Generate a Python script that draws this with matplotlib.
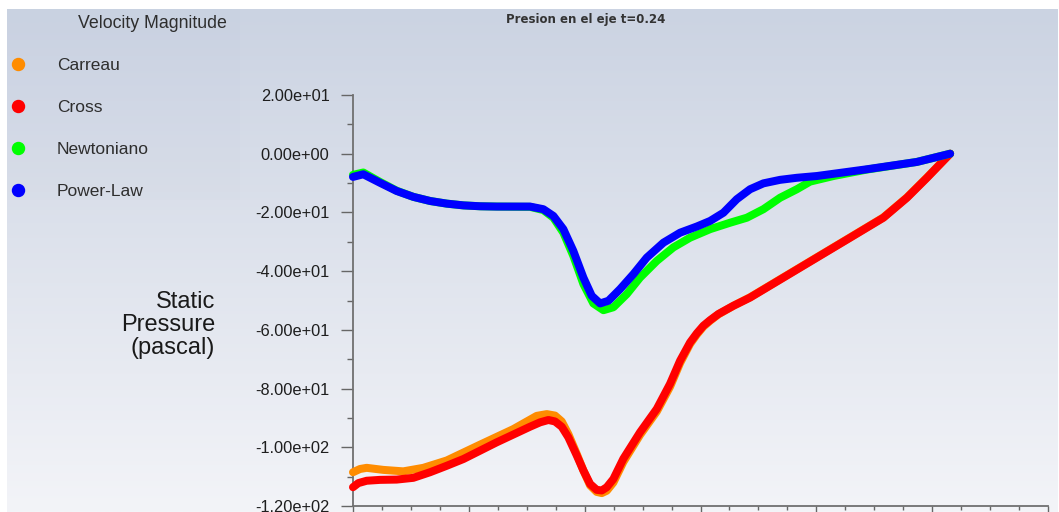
import matplotlib
matplotlib.use("Agg")
import matplotlib.pyplot as plt
import numpy as np
from matplotlib.ticker import MultipleLocator, FixedLocator, NullFormatter
from matplotlib.patches import Rectangle

W, H, DPI = 1059, 512, 100

title = "Presion en el eje t=0.24"
legend_title = "Velocity Magnitude"
y_label_lines = ["Static", "Pressure", "(pascal)"]

series_names = ["Carreau", "Cross", "Newtoniano", "Power-Law"]
series_colors = ["#ff8c00", "#ff0000", "#00ff00", "#0000ff"]

# axial position along the axis (major-tick units) and static pressure (Pa)
x_carreau = [0.0, 0.060, 0.118, 0.262, 0.434, 0.607, 0.809, 1.097, 1.384, 1.586,
             1.673, 1.744, 1.802, 1.859, 1.932, 1.989, 2.047, 2.104, 2.148, 2.191,
             2.248, 2.334, 2.478, 2.623, 2.737, 2.824, 2.910, 2.968, 3.025, 3.083,
             3.155, 3.284, 3.428, 3.716, 4.004, 4.292, 4.579, 4.782, 4.955, 5.155]
p_carreau = [-108.5, -107.4, -107.0, -107.7, -108.2, -107.0, -104.5, -99.1, -93.8, -89.3,
             -88.7, -89.2, -91.2, -95.5, -102.3, -107.9, -113.0, -115.2, -115.6, -114.8,
             -112.0, -105.0, -95.8, -87.8, -79.4, -71.3, -64.8, -61.6, -58.9, -56.9,
             -54.7, -51.8, -48.9, -42.1, -35.3, -28.5, -21.7, -14.9, -8.1, 0.0]

x_cross = [0.0, 0.046, 0.118, 0.233, 0.377, 0.521, 0.665, 0.809, 0.953, 1.241,
           1.528, 1.615, 1.687, 1.744, 1.802, 1.859, 1.932, 1.989, 2.047, 2.104,
           2.148, 2.191, 2.248, 2.334, 2.478, 2.623, 2.737, 2.824, 2.910, 2.968,
           3.025, 3.083, 3.155, 3.284, 3.428, 3.716, 4.004, 4.292, 4.579, 4.782,
           4.955, 5.155]
p_cross = [-113.6, -112.2, -111.4, -111.1, -111.0, -110.4, -108.5, -106.3, -104.0, -98.3,
           -93.0, -91.5, -90.7, -91.2, -93.0, -96.6, -102.8, -107.9, -112.5, -114.5,
           -114.7, -113.6, -110.8, -103.9, -94.9, -86.9, -78.4, -70.5, -64.3, -61.2,
           -58.6, -56.7, -54.6, -51.8, -49.0, -42.2, -35.4, -28.6, -21.8, -15.0,
           -8.2, 0.0]

x_newton = [0.0, 0.089, 0.233, 0.377, 0.521, 0.665, 0.809, 0.953, 1.097, 1.241,
            1.528, 1.643, 1.730, 1.816, 1.902, 1.989, 2.075, 2.162, 2.248, 2.364,
            2.478, 2.623, 2.766, 2.910, 3.083, 3.256, 3.400, 3.543, 3.687, 3.832,
            3.946, 4.148, 4.436, 4.868, 5.155]
p_newton = [-7.2, -6.4, -9.6, -12.6, -14.7, -16.1, -17.0, -17.6, -17.9, -18.0,
            -18.1, -19.2, -21.8, -26.9, -34.8, -44.4, -51.0, -53.3, -52.3, -47.8,
            -42.2, -36.5, -31.9, -28.6, -25.7, -23.5, -21.8, -18.9, -15.0, -12.1,
            -9.5, -7.6, -5.4, -2.8, 0.0]

x_power = [0.0, 0.089, 0.233, 0.377, 0.521, 0.665, 0.809, 0.953, 1.097, 1.241,
           1.528, 1.643, 1.730, 1.816, 1.902, 1.989, 2.061, 2.133, 2.205, 2.306,
           2.421, 2.536, 2.680, 2.824, 2.968, 3.083, 3.198, 3.313, 3.428, 3.543,
           3.687, 3.832, 4.004, 4.436, 4.868, 5.155]
p_power = [-7.9, -7.0, -9.9, -12.7, -14.7, -16.1, -17.0, -17.6, -17.9, -18.0,
           -18.0, -18.9, -21.2, -25.7, -33.1, -42.2, -48.4, -51.0, -50.1, -46.1,
           -41.0, -35.4, -30.3, -26.9, -24.8, -22.9, -20.1, -15.5, -12.1, -10.1,
           -8.9, -8.2, -7.6, -5.3, -2.8, 0.0]

series_x = [x_carreau, x_cross, x_newton, x_power]
series_p = [p_carreau, p_cross, p_newton, p_power]

y_ticks = [-120, -100, -80, -60, -40, -20, 0, 20]
y_ticklabels = ["-1.20e+02", "-1.00e+02", "-8.00e+01", "-6.00e+01",
                "-4.00e+01", "-2.00e+01", "0.00e+00", "2.00e+01"]
x_major_ticks = [0, 1, 2, 3, 4, 5, 6]


def fx(px):
    return px / W


def fy(py):
    return 1 - py / H


fig = plt.figure(figsize=(W / DPI, H / DPI), dpi=DPI, facecolor="white")

# vertical gradient background
bg = fig.add_axes([fx(7), 0, fx(1058) - fx(7), fy(9)])
bg.set_axis_off()
top = np.array([203, 211, 226]) / 255
bot = np.array([243, 244, 248]) / 255
t = np.linspace(0, 1, 256)[:, None]
grad = top[None, :] * (1 - t) + bot[None, :] * t
bg.imshow(grad[:, None, :], aspect="auto", extent=[0, 1, 0, 1],
          interpolation="bilinear")
bg.set_xlim(0, 1)
bg.set_ylim(0, 1)

# legend panel
panel_x0, panel_x1 = fx(7), fx(240)
panel_y0, panel_y1 = fy(200), fy(9)
fig.patches.append(Rectangle((panel_x0, panel_y0), panel_x1 - panel_x0,
                             panel_y1 - panel_y0, transform=fig.transFigure,
                             facecolor="#b8c2d6", alpha=0.06, edgecolor="none",
                             zorder=1))

ax = fig.add_axes([fx(353), fy(506), fx(1048) - fx(353), fy(95) - fy(506)])
ax.patch.set_alpha(0)

lw_px = 8
for xs, ps, c in zip(series_x, series_p, series_colors):
    ax.plot(xs, ps, color=c, lw=lw_px * 72 / DPI, solid_capstyle="round",
            solid_joinstyle="round", clip_on=False, zorder=3)

ax.set_xlim(0, 6)
ax.set_ylim(-120, 20)
for s in ["top", "right"]:
    ax.spines[s].set_visible(False)
for s in ["left", "bottom"]:
    ax.spines[s].set_color("#707070")
    ax.spines[s].set_linewidth(1.3)

ax.set_yticks(y_ticks)
ax.set_yticklabels(y_ticklabels, fontsize=11.8, family="Liberation Sans",
                   color="#1e1e1e")
ax.yaxis.set_minor_locator(MultipleLocator(10))
ax.xaxis.set_major_locator(FixedLocator(x_major_ticks))
ax.xaxis.set_minor_locator(MultipleLocator(0.25))
ax.xaxis.set_major_formatter(NullFormatter())
ax.tick_params(axis="y", which="major", length=8.6, width=1.0, color="#666666",
               pad=8.3)
ax.tick_params(axis="y", which="minor", length=4.3, width=1.0, color="#666666")
ax.tick_params(axis="x", which="major", length=8.6, width=1.0, color="#666666")
ax.tick_params(axis="x", which="minor", length=3.0, width=1.0, color="#666666")

# title
fig.text(fx(586), fy(20), title, ha="center", va="center", fontsize=8.5,
         family="DejaVu Sans", weight="bold", color="#333333")

# axis label
fig.text(fx(215), fy(325), "\n".join(y_label_lines), ha="right", va="center",
         fontsize=17, family="Liberation Sans", color="#1a1a1a",
         linespacing=1.06, multialignment="right")

# legend
fig.text(fx(152), fy(24), legend_title, ha="center", va="center",
         fontsize=12.8, family="Liberation Sans", color="#2e2e2e")
legend_rows = [64, 106, 148, 190]
for name, c, ry in zip(series_names, series_colors, legend_rows):
    fig.lines.append(plt.Line2D([fx(18)], [fy(ry)], transform=fig.transFigure,
                                marker="o", markersize=12 * 72 / DPI,
                                markerfacecolor=c, markeredgecolor=c,
                                linestyle="none"))
    fig.text(fx(57), fy(ry + 1), name, ha="left", va="center", fontsize=12.5,
             family="Liberation Sans", color="#2e2e2e")

fig.savefig("out.png", dpi=DPI, facecolor="white")
